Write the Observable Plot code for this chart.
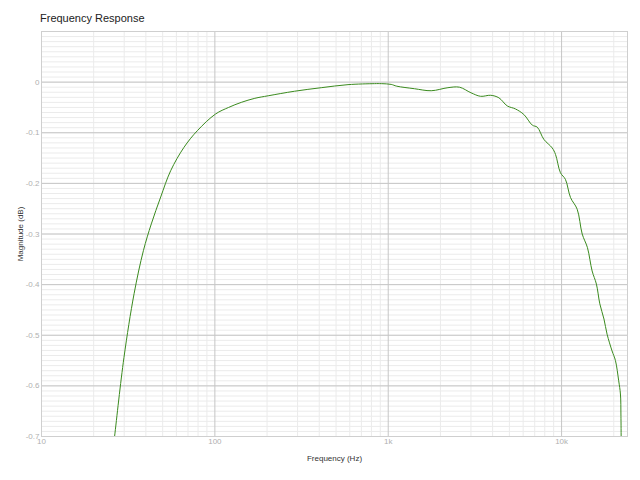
<!DOCTYPE html>
<html>
<head>
<meta charset="utf-8">
<script src="https://cdn.jsdelivr.net/npm/d3@7"></script>
<script src="https://cdn.jsdelivr.net/npm/@observablehq/plot@0.6"></script>
<style>
  html, body { margin: 0; padding: 0; background: #fff; }
  #wrap { width: 640px; height: 480px; font-family: "Liberation Sans", Arial, sans-serif; }
  #title { height: 28px; box-sizing: border-box; padding-top: 12px; padding-left: 40px;
           font-size: 11px; line-height: 13px; color: #222; }
</style>
</head>
<body>
<div id="wrap">
  <div id="title">Frequency Response</div>
  <div id="chart"></div>
</div>
<script>
// Frequency (Hz) and magnitude (dB)
const freqs = [25.7, 26.4, 29.9, 34.2, 38.7, 43.0, 48.7, 55.6, 66.3, 79.2, 100.9, 120, 142, 170, 203, 288, 411, 586, 834, 912, 1040, 1120, 1416, 1770, 2210, 2575, 3000, 3410, 3900, 4350, 4860, 5420, 6060, 6780, 7240, 7900, 8830, 9230, 9850, 10520, 11260, 12300, 13150, 14100, 15000, 15880, 16620, 17560, 18300, 19550, 20450, 21350, 21850, 22000, 22100];
const magnitude = [-0.735, -0.700, -0.544, -0.418, -0.333, -0.280, -0.227, -0.175, -0.129, -0.096, -0.063, -0.050, -0.040, -0.032, -0.027, -0.018, -0.011, -0.005, -0.003, -0.003, -0.0045, -0.008, -0.013, -0.017, -0.011, -0.010, -0.021, -0.028, -0.026, -0.031, -0.047, -0.053, -0.064, -0.085, -0.089, -0.113, -0.130, -0.143, -0.179, -0.192, -0.228, -0.251, -0.300, -0.327, -0.373, -0.399, -0.438, -0.468, -0.498, -0.531, -0.550, -0.590, -0.616, -0.660, -0.750];

const xTicks = [10, 100, 1000, 10000];
const xTickLabels = ["10", "100", "1k", "10k"];
const yTicks = [-0.7, -0.6, -0.5, -0.4, -0.3, -0.2, -0.1, 0];
const yTickLabels = ["-0.7", "-0.6", "-0.5", "-0.4", "-0.3", "-0.2", "-0.1", "0"];

const xMinor = [];
for (const d of [10, 100, 1000, 10000]) for (let k = 2; k <= 9; k++) if (d * k < 24000) xMinor.push(d * k);
const yMinor = d3.range(-70, 11).map(i => i / 100);
const yMajor = [-0.7, -0.6, -0.5, -0.4, -0.3, -0.2, -0.1, 0, 0.1];

const data = freqs.map((f, i) => ({f, m: magnitude[i]}));

const chart = Plot.plot({
  width: 640,
  height: 452,
  marginLeft: 41,
  marginRight: 13,
  marginTop: 3,
  marginBottom: 44,
  style: {fontFamily: "Liberation Sans, Arial, sans-serif", fontSize: "8px", background: "#fff"},
  x: {type: "log", domain: [10, 24000]},
  y: {domain: [-0.7, 0.1]},
  marks: [
    Plot.ruleX(xMinor, {stroke: "#ebebeb", strokeWidth: 1}),
    Plot.ruleY(yMinor, {stroke: "#ebebeb", strokeWidth: 1}),
    Plot.ruleX(xTicks, {stroke: "#c6c6c6", strokeWidth: 1}),
    Plot.ruleY(yMajor, {stroke: "#c6c6c6", strokeWidth: 1}),
    Plot.frame({stroke: "#cfcfcf"}),
    Plot.line(data, {x: "f", y: "m", stroke: "#3a8a1e", strokeWidth: 1, curve: "catmull-rom", clip: true}),
    Plot.axisX({ticks: xTicks, tickSize: 0, tickPadding: 2, tickFormat: d => xTickLabels[xTicks.indexOf(d)], color: "#b0b0b0", fontSize: 8, label: null}),
    Plot.axisY({ticks: yTicks, tickSize: 0, tickPadding: 2, tickFormat: d => yTickLabels[yTicks.findIndex(t => Math.abs(t - d) < 1e-9)], color: "#b0b0b0", fontSize: 8, label: null}),
    Plot.text(["Frequency (Hz)"], {frameAnchor: "bottom", dy: 22, lineAnchor: "middle", fill: "#333", fontSize: 8}),
    Plot.text(["Magnitude (dB)"], {frameAnchor: "left", dx: -21, rotate: -90, textAnchor: "middle", lineAnchor: "middle", fill: "#333", fontSize: 8})
  ]
});
document.getElementById("chart").appendChild(chart);
</script>
</body>
</html>
